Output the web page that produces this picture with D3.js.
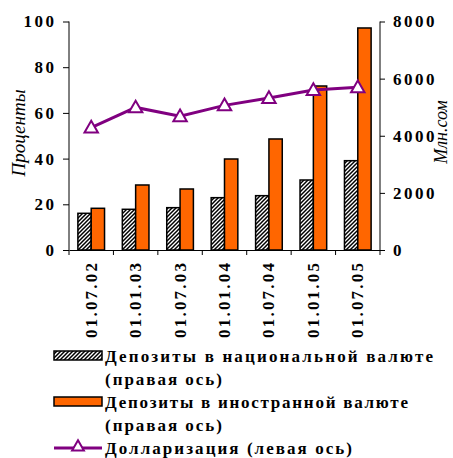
<!DOCTYPE html>
<html><head><meta charset="utf-8">
<script src="https://cdn.jsdelivr.net/npm/d3@7"></script>
<style>body{margin:0;background:#fff}svg{display:block}</style>
</head><body>
<script>
const categories = ["01.07.02","01.01.03","01.07.03","01.01.04","01.07.04","01.01.05","01.07.05"];
const nationalDeposits = [1285, 1425, 1482, 1832, 1902, 2451, 3127];
const foreignDeposits = [1460, 2276, 2136, 3186, 3887, 5742, 7773];
const dollarization = [53.6, 62.4, 58.5, 63.3, 66.5, 70.0, 71.2];
const leftTicks = [0, 20, 40, 60, 80, 100];
const rightTicks = [0, 2000, 4000, 6000, 8000];
const legendLabels = [
  ["Депозиты  в национальной валюте", "(правая ось)"],
  ["Депозиты в иностранной валюте", "(правая ось)"],
  ["Долларизация (левая ось)"]
];

const W = 453, H = 458;
const L = 69, R = 380, T = 21.5, B = 250;
const FF = '"Liberation Serif", "Times New Roman", serif';
const svg = d3.select("body").append("svg").attr("width", W).attr("height", H);
const defs = svg.append("defs");
const pat = defs.append("pattern").attr("id","hatch").attr("patternUnits","userSpaceOnUse")
  .attr("width",4).attr("height",4);
pat.append("rect").attr("width",4).attr("height",4).attr("fill","#fff");
pat.append("path").attr("d","M-1,1 l2,-2 M0,4 l4,-4 M3,5 l2,-2").attr("stroke","#000").attr("stroke-width",1.5);

const x = d3.scaleBand().domain(categories).range([L, R]).padding(0);
const yL = d3.scaleLinear().domain([0,100]).range([B, T]);
const yR = d3.scaleLinear().domain([0,8000]).range([B, T]);
const bw = x.bandwidth() * 0.3;

// bars
svg.append("g").selectAll("rect").data(categories).join("rect")
  .attr("x", d => x(d) + x.bandwidth()/2 - bw)
  .attr("y", (d,i) => yR(nationalDeposits[i]))
  .attr("width", bw).attr("height", (d,i) => B - yR(nationalDeposits[i]))
  .attr("fill","url(#hatch)").attr("stroke","#000").attr("stroke-width",1.5);
svg.append("g").selectAll("rect").data(categories).join("rect")
  .attr("x", d => x(d) + x.bandwidth()/2)
  .attr("y", (d,i) => yR(foreignDeposits[i]))
  .attr("width", bw).attr("height", (d,i) => B - yR(foreignDeposits[i]))
  .attr("fill","#FF6600").attr("stroke","#000").attr("stroke-width",1.5);

// axes
const axL = svg.append("g").attr("transform",`translate(${L},0)`)
  .call(d3.axisLeft(yL).tickValues(leftTicks).tickSize(6).tickPadding(6.5).tickFormat(d3.format("d")));
const axR = svg.append("g").attr("transform",`translate(${R},0)`)
  .call(d3.axisRight(yR).tickValues(rightTicks).tickSize(5).tickPadding(8).tickFormat(d3.format("d")));
const axB = svg.append("g").attr("transform",`translate(0,${B})`)
  .call(d3.axisBottom(x).tickSize(0).tickFormat(""));
svg.append("g").selectAll("line").data(d3.range(categories.length+1)).join("line")
  .attr("x1", i => L + i*x.step()).attr("x2", i => L + i*x.step())
  .attr("y1", B).attr("y2", B+5).attr("stroke","#000").attr("stroke-width",1);
[axL, axR, axB].forEach(a => {
  a.select(".domain").attr("stroke","#000").attr("stroke-width",1);
  a.selectAll(".tick line").attr("stroke","#000");
  a.selectAll("text").style("font-family", FF).style("font-weight","bold")
    .style("font-size","17px").style("letter-spacing","2.5px").attr("fill","#000");
});
axR.select(".domain").attr("d", `M0,${T}V${B}`);
axL.select(".domain").attr("d", `M0,${T}V${B}`);

// category labels
svg.append("g").selectAll("text").data(categories).join("text")
  .attr("transform", d => `translate(${x(d)+x.bandwidth()/2 + 5.5},263) rotate(-90)`)
  .attr("text-anchor","end").style("font-family",FF).style("font-weight","bold")
  .style("font-size","17px").attr("textLength",75).attr("lengthAdjust","spacing").text(d => d);

// axis titles
svg.append("text").attr("transform","translate(25,133) rotate(-90)")
  .attr("text-anchor","middle").style("font-family",FF).style("font-style","italic")
  .style("font-size","19px").text("Проценты");
svg.append("text").attr("transform","translate(447,132) rotate(-90)")
  .attr("text-anchor","middle").style("font-family",FF).style("font-style","italic")
  .style("font-size","18px").text("Млн.сом");

// line
const tri = d3.symbol().type(d3.symbolTriangle).size(78);
svg.append("path").datum(dollarization)
  .attr("d", d3.line().x((d,i) => x(categories[i]) + x.bandwidth()/2).y(d => yL(d)))
  .attr("fill","none").attr("stroke","#800080").attr("stroke-width",3);
svg.append("g").selectAll("path").data(dollarization).join("path")
  .attr("transform",(d,i) => `translate(${x(categories[i]) + x.bandwidth()/2},${yL(d)+1})`)
  .attr("d", tri).attr("fill","#fff").attr("stroke","#800080").attr("stroke-width",2);

// legend
const lg = svg.append("g");
lg.append("rect").attr("x",54).attr("y",351).attr("width",48).attr("height",9)
  .attr("fill","url(#hatch)").attr("stroke","#000").attr("stroke-width",1.5);
lg.append("rect").attr("x",54).attr("y",397).attr("width",48).attr("height",9)
  .attr("fill","#FF6600").attr("stroke","#000").attr("stroke-width",1.5);
lg.append("line").attr("x1",54).attr("x2",102).attr("y1",448).attr("y2",448)
  .attr("stroke","#800080").attr("stroke-width",3);
lg.append("path").attr("transform","translate(78,447)").attr("d", d3.symbol().type(d3.symbolTriangle).size(60))
  .attr("fill","#fff").attr("stroke","#800080").attr("stroke-width",2);
const lines = [
  [legendLabels[0][0], 356, 328],
  [legendLabels[0][1], 379, 117],
  [legendLabels[1][0], 402, 303],
  [legendLabels[1][1], 425, 117],
  [legendLabels[2][0], 448, 247]
];
lg.selectAll("text").data(lines).join("text")
  .attr("x",105).attr("y", d => d[1] + 6)
  .style("font-family",FF).style("font-weight","bold").style("font-size","17px")
  .attr("textLength", d => d[2]).attr("lengthAdjust","spacing")
  .text(d => d[0]);
</script>
</body></html>
